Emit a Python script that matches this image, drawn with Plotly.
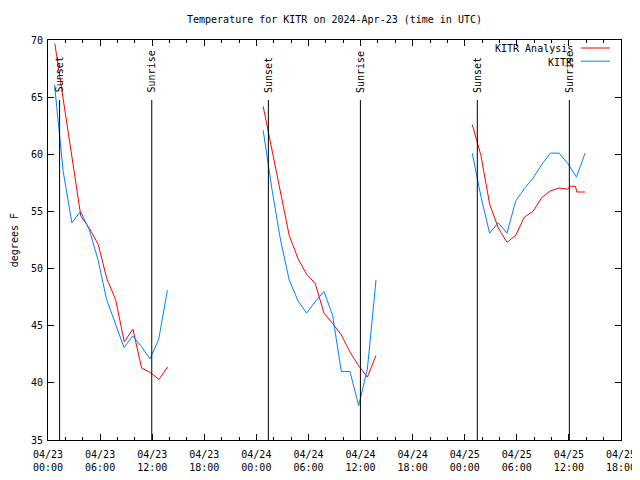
import plotly.graph_objects as go

# ---------------- data ----------------
analysis_day1_times = ["2024-04-23 %02d:47" % h for h in range(0, 14)]
analysis_day1_vals = [69.7, 64.8, 59.9, 54.6, 53.5, 52.1, 49.1, 47.3, 43.6, 44.7, 41.3, 40.9, 40.3, 41.4]
analysis_day2_times = ["2024-04-24 %02d:47" % h for h in range(0, 14)]
analysis_day2_vals = [64.2, 60.4, 56.6, 52.9, 50.9, 49.5, 48.7, 46.1, 45.2, 44.2, 42.7, 41.5, 40.5, 42.4]
analysis_day3_times = ["2024-04-25 00:52", "2024-04-25 01:52", "2024-04-25 02:52", "2024-04-25 03:52",
                       "2024-04-25 04:52", "2024-04-25 05:52", "2024-04-25 06:52", "2024-04-25 07:52",
                       "2024-04-25 08:52", "2024-04-25 09:52", "2024-04-25 10:52", "2024-04-25 11:52",
                       "2024-04-25 12:10", "2024-04-25 12:45", "2024-04-25 12:55", "2024-04-25 13:52"]
analysis_day3_vals = [62.6, 59.9, 55.65, 53.55, 52.3, 52.9, 54.5, 55.0, 56.2, 56.8, 57.05, 56.95,
                      57.2, 57.2, 56.7, 56.7]

obs_day1_times = ["2024-04-23 %02d:45" % h for h in range(0, 14)]
obs_day1_vals = [66.1, 58.5, 54.0, 55.0, 53.4, 50.8, 47.3, 45.2, 43.1, 44.1, 43.2, 42.1, 43.8, 48.1]
obs_day2_times = ["2024-04-24 %02d:47" % h for h in range(0, 14)]
obs_day2_vals = [62.1, 57.0, 52.5, 49.0, 47.2, 46.1, 47.1, 48.0, 45.9, 41.0, 41.0, 38.0, 41.2, 49.0]
obs_day3_times = ["2024-04-25 %02d:52" % h for h in range(0, 14)]
obs_day3_vals = [60.1, 56.3, 53.1, 54.0, 53.1, 55.9, 57.0, 57.9, 59.1, 60.1, 60.1, 59.2, 58.0, 60.1]

sunset_times = ["2024-04-23 01:20", "2024-04-24 01:23", "2024-04-25 01:27"]
sunrise_times = ["2024-04-23 11:57", "2024-04-24 11:59", "2024-04-25 12:03"]

tick_vals = ["2024-04-23 00:00", "2024-04-23 06:00", "2024-04-23 12:00", "2024-04-23 18:00",
             "2024-04-24 00:00", "2024-04-24 06:00", "2024-04-24 12:00", "2024-04-24 18:00",
             "2024-04-25 00:00", "2024-04-25 06:00", "2024-04-25 12:00", "2024-04-25 18:00"]
tick_text = ["04/23<br>00:00", "04/23<br>06:00", "04/23<br>12:00", "04/23<br>18:00",
             "04/24<br>00:00", "04/24<br>06:00", "04/24<br>12:00", "04/24<br>18:00",
             "04/25<br>00:00", "04/25<br>06:00", "04/25<br>12:00", "04/25<br>18:00"]

title_text = "Temperature for KITR on 2024-Apr-23 (time in UTC)"
ylabel = "degrees F"
series_names = ["KITR Analysis", "KITR"]

RED = "#ff0000"
BLUE = "#0080ff"
FONT = dict(family="DejaVu Sans Mono", size=10, color="black")

# the page body has an 8px margin; the figure extends past the window's right edge
W, H = 640, 472

fig = go.Figure()
for t, v in [(analysis_day1_times, analysis_day1_vals), (analysis_day2_times, analysis_day2_vals),
             (analysis_day3_times, analysis_day3_vals)]:
    fig.add_trace(go.Scatter(x=t, y=v, mode="lines", line=dict(color=RED, width=1),
                             name=series_names[0], showlegend=False))
for t, v in [(obs_day1_times, obs_day1_vals), (obs_day2_times, obs_day2_vals),
             (obs_day3_times, obs_day3_vals)]:
    fig.add_trace(go.Scatter(x=t, y=v, mode="lines", line=dict(color=BLUE, width=1),
                             name=series_names[1], showlegend=False))

for label, times in [("Sunset", sunset_times), ("Sunrise", sunrise_times)]:
    for t in times:
        fig.add_shape(type="line", xref="x", yref="y", x0=t, x1=t, y0=35, y1=64.75,
                      line=dict(color="black", width=1))
        fig.add_annotation(x=t, y=65.3, xref="x", yref="y", text=label, textangle=-90,
                           showarrow=False, xanchor="center", yanchor="bottom", font=FONT,
                           borderpad=0)

# legend (gnuplot style: text right-aligned, sample to the right)
for name, color, ypos in [(series_names[0], RED, 0.978), (series_names[1], BLUE, 0.945)]:
    fig.add_annotation(x=0.918, y=ypos, xref="paper", yref="paper", text=name, showarrow=False,
                       xanchor="right", yanchor="middle", font=FONT, borderpad=0)
    fig.add_shape(type="line", xref="paper", yref="paper", x0=0.930, x1=0.981, y0=ypos + 0.002,
                  y1=ypos + 0.002, line=dict(color=color, width=1))

fig.add_annotation(x=-0.059, y=0.5, xref="paper", yref="paper", text=ylabel, textangle=-90,
                   showarrow=False, xanchor="center", yanchor="middle", font=FONT, borderpad=0)

fig.update_layout(
    width=W, height=H,
    margin=dict(l=40, r=27, t=32, b=40, autoexpand=False),
    paper_bgcolor="white", plot_bgcolor="white",
    font=FONT,
    title=dict(text=title_text, x=0.5, xref="paper", xanchor="center", y=1 - 11 / H,
               yanchor="middle", font=FONT),
    showlegend=False,
)
fig.update_xaxes(type="date", range=["2024-04-23 00:00", "2024-04-25 18:00"],
                 tickmode="array", tickvals=tick_vals, ticktext=tick_text,
                 ticks="inside", ticklen=6, tickcolor="black", mirror="allticks",
                 showline=True, linecolor="black", linewidth=1, showgrid=False, zeroline=False,
                 tickfont=FONT, automargin=False, ticklabelstandoff=5,
                 minor=dict(dtick=2 * 3600 * 1000, tick0="2024-04-23", ticks="inside",
                            ticklen=3, tickcolor="black", showgrid=False))
fig.update_yaxes(range=[35, 70], tickmode="linear", tick0=35, dtick=5,
                 ticks="inside", ticklen=6, tickcolor="black", mirror="allticks",
                 showline=True, linecolor="black", linewidth=1, showgrid=False, zeroline=False,
                 tickfont=FONT, automargin=False, ticklabelstandoff=2)

fig.write_html("out.html")
